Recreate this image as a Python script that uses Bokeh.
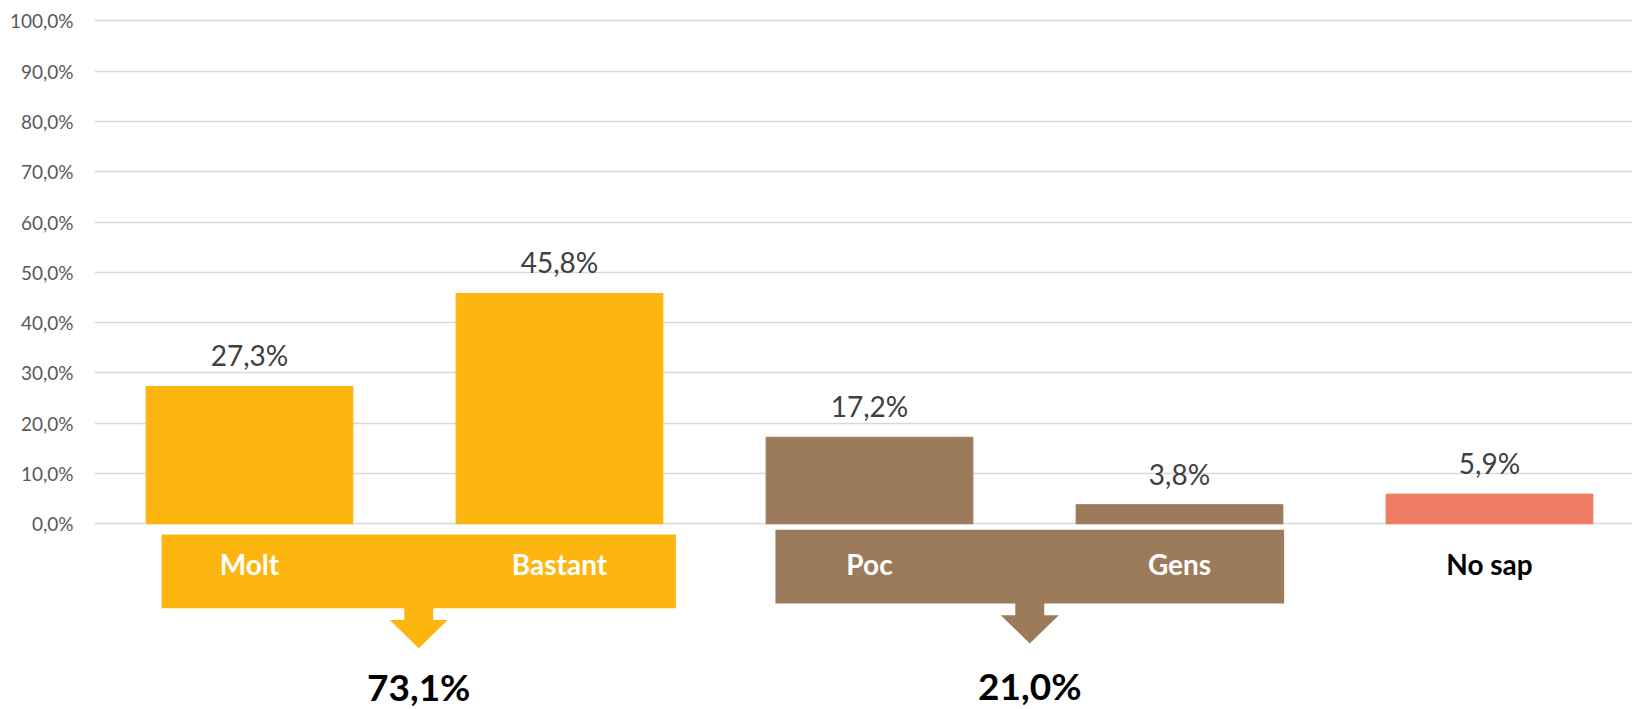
from bokeh.plotting import figure
from bokeh.models import FixedTicker, ColumnDataSource, Range1d
from bokeh.core.properties import value
from bokeh.embed import file_html
from bokeh.resources import INLINE

# ---------------- data ----------------
categories = ["Molt", "Bastant", "Poc", "Gens", "No sap"]
percentages = [27.3, 45.8, 17.2, 3.8, 5.9]
bar_colors = ["#FDB510", "#FDB510", "#9C7B5B", "#9C7B5B", "#EF7C63"]
category_label_colors = ["white", "white", "white", "white", "black"]

group_members = [[0, 1], [2, 3]]
group_totals = [73.1, 21.0]
group_colors = ["#FDB510", "#9C7B5B"]

y_ticks = [0, 10, 20, 30, 40, 50, 60, 70, 80, 90, 100]
y_tick_labels = ["0,0%", "10,0%", "20,0%", "30,0%", "40,0%", "50,0%",
                 "60,0%", "70,0%", "80,0%", "90,0%", "100,0%"]


def pct(v):
    return f"{v:.1f}%".replace(".", ",")


FONT = "Lato"
W, H = 1632, 709
LEFT = 94
SLOT_PX = 310.0
PX_PER_UNIT = 5.03
Y_TOP = 100 + 20.3 / PX_PER_UNIT
Y_BOT = Y_TOP - H / PX_PER_UNIT
X_MAX = (W - LEFT) / SLOT_PX

p = figure(width=W, height=H, output_backend="svg", toolbar_location=None,
           x_range=Range1d(0, X_MAX), y_range=Range1d(Y_BOT, Y_TOP),
           min_border_left=LEFT, min_border_right=0, min_border_top=0,
           min_border_bottom=0, background_fill_color="white",
           border_fill_color="white")
p.outline_line_color = None
p.xaxis.visible = False
p.xgrid.visible = False

p.yaxis.ticker = FixedTicker(ticks=y_ticks)
p.yaxis.major_label_overrides = {t: l for t, l in zip(y_ticks, y_tick_labels)}
p.yaxis.axis_line_color = None
p.yaxis.major_tick_line_color = None
p.yaxis.minor_tick_line_color = None
p.yaxis.major_tick_in = 0
p.yaxis.major_tick_out = 0
p.yaxis.major_label_standoff = 21
p.yaxis.major_label_text_font = FONT
p.yaxis.major_label_text_font_size = "19px"
p.yaxis.major_label_text_color = "#595959"
p.ygrid.ticker = FixedTicker(ticks=y_ticks)
p.ygrid.grid_line_color = "#D9D9D9"
p.ygrid.grid_line_width = 1.6

xs = [i + 0.5 for i in range(len(categories))]
src = ColumnDataSource(dict(
    x=xs, top=percentages, color=bar_colors,
    lab=[pct(v) for v in percentages], cat=categories,
    catcol=category_label_colors,
))

# bars
p.vbar(x="x", top="top", bottom=0, width=0.667, color="color", source=src)

# value labels (centre ~31 px above the bar top)
p.text(x="x", y="top", text="lab", source=src, text_align="center",
       text_baseline="middle", y_offset=-31, text_font=value(FONT),
       text_font_size="28px", text_color="#404040")

# group boxes + arrows + totals
box_pad_left = [0.05, 0.03]
box_pad_right = [0.042, 0.004]
box_top = [-2.13, -1.19]
box_height = 14.65
total_y = [-32.3, -32.1]
stem_half = 14.5 / SLOT_PX
head_half = 29.0 / SLOT_PX
stem_len = 2.35
head_len = 5.6
label_y = -8.0

for g, members in enumerate(group_members):
    left = xs[members[0]] - 0.3335 + box_pad_left[g]
    right = xs[members[-1]] + 0.3335 + box_pad_right[g]
    top = box_top[g]
    bottom = top - box_height
    p.quad(left=left, right=right, top=top, bottom=bottom,
           color=group_colors[g], line_color=None)
    cx = (left + right) / 2
    y1 = bottom + 0.3
    y2 = bottom - stem_len
    y3 = y2 - head_len
    p.patch(x=[cx - stem_half, cx + stem_half, cx + stem_half, cx + head_half,
               cx, cx - head_half, cx - stem_half],
            y=[y1, y1, y2, y2, y3, y2, y2],
            color=group_colors[g], line_color=None)
    p.text(x=[cx], y=[total_y[g]], text=[pct(group_totals[g])],
           text_align="center", text_baseline="middle",
           text_font=value(FONT), text_font_size="37px",
           text_font_style="bold", text_color="black")

# category labels
p.text(x="x", y=label_y, text="cat", source=src, text_align="center",
       text_baseline="middle", text_font=value(FONT), text_font_size="28px",
       text_font_style="bold", text_color="catcol")

open("out.html", "w").write(file_html(p, INLINE))
